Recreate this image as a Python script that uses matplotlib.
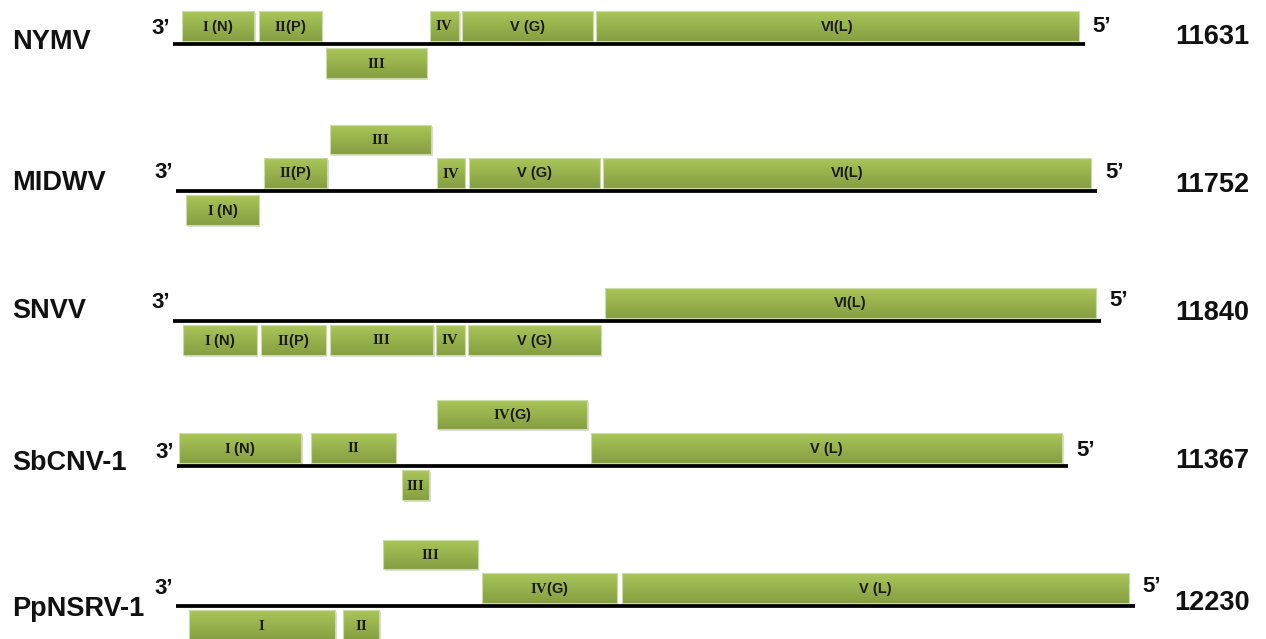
import matplotlib
matplotlib.use("Agg")
import matplotlib.pyplot as plt
import numpy as np
from matplotlib.patches import Rectangle

plt.rcParams['mathtext.fontset'] = 'custom'
plt.rcParams['mathtext.bf'] = 'Liberation Serif:bold'
plt.rcParams['mathtext.rm'] = 'Liberation Serif'

# ---------------- data (nucleotide coordinates from the 3' end) ----------------
virus_names = ["NYMV", "MIDWV", "SNVV", "SbCNV-1", "PpNSRV-1"]
genome_lengths = [11631, 11752, 11840, 11367, 12230]

# gene label, start (nt), end (nt), level (1 above, 2 above-high, -1 below)
nymv_labels = [r"$\mathbf{I}$ (N)", r"$\mathbf{II}$(P)", r"$\mathbf{III}$", r"$\mathbf{IV}$", "V (G)", "VI(L)"]
nymv_starts = [102, 1086, 1941, 3270, 3678, 5390]
nymv_ends = [1022, 1890, 3231, 3640, 5351, 11558]
nymv_levels = [1, 1, -1, 1, 1, 1]

midwv_labels = [r"$\mathbf{I}$ (N)", r"$\mathbf{II}$(P)", r"$\mathbf{III}$", r"$\mathbf{IV}$", "V (G)", "VI(L)"]
midwv_starts = [115, 1111, 1954, 3321, 3729, 5441]
midwv_ends = [1047, 1916, 3244, 3678, 5402, 11673]
midwv_levels = [-1, 1, 2, 1, 1, 1]

snvv_labels = [r"$\mathbf{I}$ (N)", r"$\mathbf{II}$(P)", r"$\mathbf{III}$", r"$\mathbf{IV}$", "V (G)", "VI(L)"]
snvv_starts = [115, 1111, 1992, 3346, 3755, 5504]
snvv_ends = [1060, 1941, 3308, 3716, 5453, 11775]
snvv_levels = [-1, -1, -1, -1, -1, 1]

sbcnv_labels = [r"$\mathbf{I}$ (N)", r"$\mathbf{II}$", r"$\mathbf{III}$", r"$\mathbf{IV}$(G)", "V (L)"]
sbcnv_starts = [13, 1699, 2861, 3308, 5275]
sbcnv_ends = [1571, 2784, 3206, 5224, 11290]
sbcnv_levels = [1, 1, -1, 2, 1]

ppnsrv_labels = [r"$\mathbf{I}$", r"$\mathbf{II}$", r"$\mathbf{III}$", r"$\mathbf{IV}$(G)", "V (L)"]
ppnsrv_starts = [153, 2120, 2631, 3895, 5683]
ppnsrv_ends = [2018, 2580, 3844, 5619, 12158]
ppnsrv_levels = [-1, -1, 2, 1, 1]

genes = [
    (nymv_labels, nymv_starts, nymv_ends, nymv_levels),
    (midwv_labels, midwv_starts, midwv_ends, midwv_levels),
    (snvv_labels, snvv_starts, snvv_ends, snvv_levels),
    (sbcnv_labels, sbcnv_starts, sbcnv_ends, sbcnv_levels),
    (ppnsrv_labels, ppnsrv_starts, ppnsrv_ends, ppnsrv_levels),
]

# ---------------- layout ----------------
W, H = 1266, 639
PX_PER_NT = 0.0783
row_line_y = [44, 191, 321, 466, 606]          # pixel rows of genome lines
row_origin_px = [174, 177, 174, 178, 177]      # pixel x of 3' end
name_y = [42, 183, 311, 463, 609]
len_y = [37, 185, 313, 461, 603]
three_y = [28, 173, 302, 452, 588]
level_span = {1: (-33, -3), 2: (-66, -37), -1: (4, 34)}

fig = plt.figure(figsize=(W / 100, H / 100), dpi=100)
ax = fig.add_axes([0, 0, 1, 1])
ax.set_xlim(0, W)
ax.set_ylim(H, 0)
ax.axis("off")

grad = np.linspace(0, 1, 64).reshape(-1, 1)
top_c = np.array([170, 198, 88]) / 255
bot_c = np.array([134, 158, 66]) / 255
grad_img = top_c[None, None, :] * (1 - grad[:, :, None]) + bot_c[None, None, :] * grad[:, :, None]


def draw_box(x0, x1, y0, y1, label):
    # soft shadow
    ax.add_patch(Rectangle((x0 + 1.5, y0 + 2), x1 - x0, y1 - y0, facecolor="#8a8a8a",
                           alpha=0.3, edgecolor="none", zorder=2))
    ax.imshow(grad_img, extent=(x0, x1, y1, y0), aspect="auto", zorder=3,
              interpolation="bilinear")
    ax.add_patch(Rectangle((x0, y0), x1 - x0, y1 - y0, facecolor="none",
                           edgecolor="#cddba6", lw=0.8, zorder=4))
    ax.text((x0 + x1) / 2, (y0 + y1) / 2 + 0.5, label, ha="center", va="center",
            fontsize=10.5, fontweight="bold", family="Liberation Sans",
            color="#1a1a1a", zorder=5)


for i, name in enumerate(virus_names):
    y = row_line_y[i]
    ox = row_origin_px[i]
    x_end = ox + genome_lengths[i] * PX_PER_NT
    labels, starts, ends, levels = genes[i]
    for lab, s, e, lv in zip(labels, starts, ends, levels):
        x0 = ox + s * PX_PER_NT
        x1 = ox + e * PX_PER_NT
        d0, d1 = level_span[lv]
        draw_box(x0, x1, y + d0, y + d1, lab)
    ax.plot([ox - 1, x_end], [y, y], color="black", lw=2.7, solid_capstyle="butt", zorder=6)
    ax.text(12, name_y[i], name, ha="left", va="center", fontsize=19.5,
            fontweight="bold", family="Liberation Sans", color="#111111")
    ax.text(1212, len_y[i], str(genome_lengths[i]), ha="center", va="center",
            fontsize=19.5, fontweight="bold", family="Liberation Sans", color="#111111")
    ax.text(ox - 23, three_y[i], "3\u2019", ha="left", va="center", fontsize=16,
            fontweight="bold", family="Liberation Sans", color="#111111")
    ax.text(x_end + 8, three_y[i] - 1, "5\u2019", ha="left", va="center", fontsize=16,
            fontweight="bold", family="Liberation Sans", color="#111111")

fig.savefig("out.png", dpi=100)
